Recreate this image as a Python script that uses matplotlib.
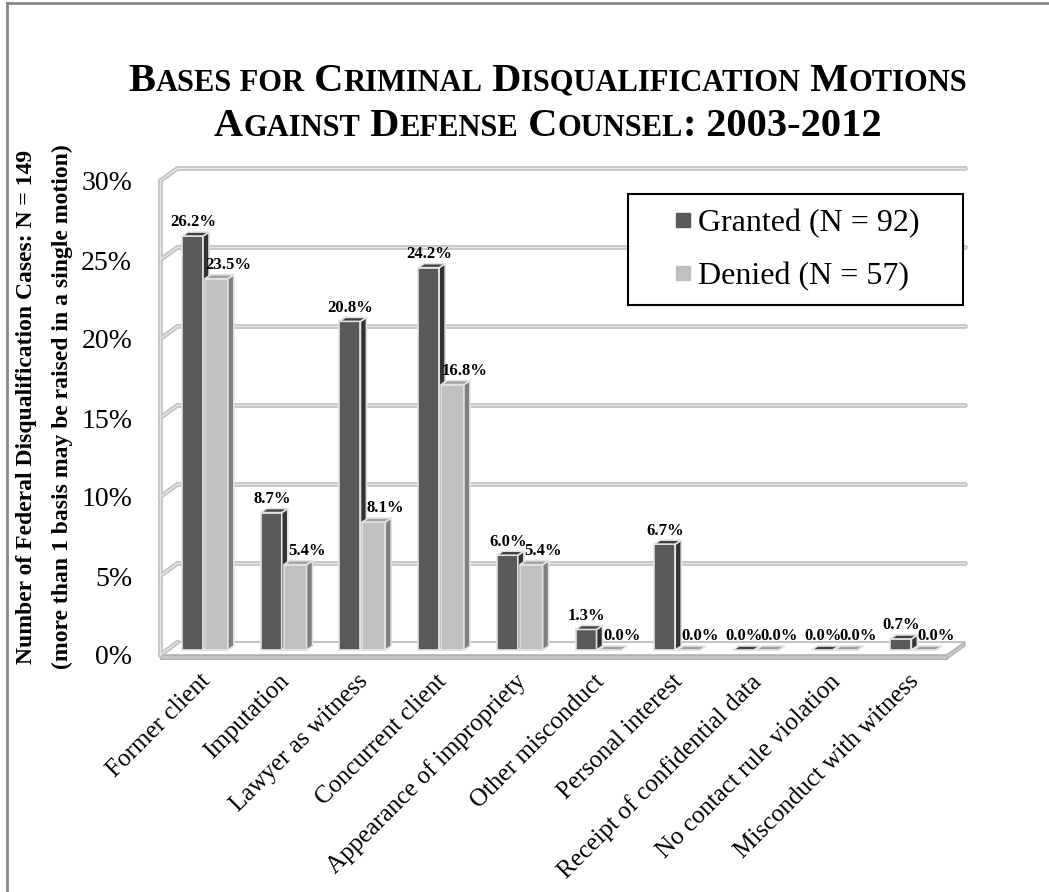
import numpy as np
import matplotlib.pyplot as plt
from matplotlib.patches import Polygon
from matplotlib.lines import Line2D
from matplotlib.offsetbox import TextArea, HPacker, VPacker, AnchoredOffsetbox

plt.rcParams['font.family'] = ['Liberation Serif', 'DejaVu Serif']

# data
categories = ['Former client', 'Imputation', 'Lawyer as witness', 'Concurrent client',
              'Appearance of impropriety', 'Other misconduct', 'Personal interest',
              'Receipt of confidential data', 'No contact rule violation',
              'Misconduct with witness']
granted = [26.2, 8.7, 20.8, 24.2, 6.0, 1.3, 6.7, 0.0, 0.0, 0.7]
denied = [23.5, 5.4, 8.1, 16.8, 5.4, 0.0, 0.0, 0.0, 0.0, 0.0]
series_names = ['Granted (N = 92)', 'Denied (N = 57)']
yticks = [0, 5, 10, 15, 20, 25, 30]

W, H = 1049, 892
fig = plt.figure(figsize=(W / 100, H / 100), dpi=100)

# pixel scale of the fake 3d box
PX_CAT = 78.7
PX_PCT = 15.8
ax = fig.add_axes([160 / W, (H - 655) / H, 807 / W, 488 / H])
ax.set_xlim(-0.5, -0.5 + 807 / PX_CAT)
ax.set_ylim(0, 488 / PX_PCT)
for s in ax.spines.values():
    s.set_visible(False)
ax.set_facecolor('none')

DXW, DYW = 18 / PX_CAT, 13 / PX_PCT   # wall depth
DXB, DYB = 6 / PX_CAT, 4 / PX_PCT     # bar depth
BASE = 5 / PX_PCT
x0, x1 = -0.5, len(categories) - 0.5
ytop = yticks[-1]

# floor slab
th = 4 / PX_PCT
ax.add_patch(Polygon([(x0, 0), (x1, 0), (x1 + DXW, DYW), (x0 + DXW, DYW)],
                     fc='white', ec='#c4c4c4', lw=1.5, zorder=1, clip_on=False))
ax.add_patch(Polygon([(x0, -th), (x1, -th), (x1, 0), (x0, 0)],
                     fc='#c8c8c8', ec='#b0b0b0', lw=0.8, zorder=1, clip_on=False))
ax.add_patch(Polygon([(x1, -th), (x1 + DXW, DYW - th), (x1 + DXW, DYW), (x1, 0)],
                     fc='#c8c8c8', ec='#b0b0b0', lw=0.8, zorder=1, clip_on=False))


def wall_line(xs, ys):
    ax.plot(xs, ys, color='#c2c2c2', lw=3.4, solid_capstyle='round', zorder=1.2, clip_on=False)
    ax.plot(xs, ys, color='#e6e6e6', lw=1.0, solid_capstyle='round', zorder=1.3, clip_on=False)


# back wall grid + left wall
for v in yticks:
    if v > 0:
        wall_line([x0 + DXW, x1 + DXW], [v + DYW, v + DYW])
    wall_line([x0, x0 + DXW], [v, v + DYW])
wall_line([x0, x0], [0, ytop])

# bars
dark = dict(front='#595959', side='#333333', top='#404040')
light = dict(front='#c0c0c0', side='#7f7f7f', top='#a0a0a0')
# (values, left offset, width, colours, label shift)
bar_specs = [(granted, -0.22, 0.267, dark, -0.03), (denied, 0.072, 0.29, light, 0.11)]
z = 2
for i in range(len(categories)):
    for vals, off, bw, col, lshift in bar_specs:
        v = vals[i]
        xl, xr = i + off, i + off + bw
        yb, yt = BASE, BASE + v
        ec = '#e2e2e2'
        if v > 0:
            ax.add_patch(Polygon([(xl, yb), (xr, yb), (xr, yt), (xl, yt)],
                                 fc=col['front'], ec=ec, lw=1.2, zorder=z, clip_on=False))
            ax.add_patch(Polygon([(xr, yb), (xr + DXB, yb + DYB), (xr + DXB, yt + DYB), (xr, yt)],
                                 fc=col['side'], ec=ec, lw=1.2, zorder=z, clip_on=False))
        ax.add_patch(Polygon([(xl, yt), (xr, yt), (xr + DXB, yt + DYB), (xl + DXB, yt + DYB)],
                             fc=col['top'], ec=ec, lw=1.2, zorder=z, clip_on=False))
        z += 0.01
        ax.text((xl + xr) / 2 + DXB / 2 + lshift, yt + DYB + 0.1, f'{v:.1f}%',
                ha='center', va='bottom', fontsize=12, fontweight='bold', zorder=10)

# axes ticks
ax.set_yticks(yticks)
ax.set_yticklabels([f'{v}%' for v in yticks], fontsize=20)
ax.set_xticks(range(len(categories)))
ax.set_xticklabels(categories, fontsize=18, rotation=45, ha='right', va='top',
                   rotation_mode='anchor')
ax.tick_params(axis='y', length=0, pad=20)
ax.tick_params(axis='x', length=0, pad=11)

# legend
handles = [Line2D([], [], ls='none', marker='s', markersize=9.4, color=dark['front']),
           Line2D([], [], ls='none', marker='s', markersize=9.4, color=light['front'])]
leg = ax.legend(handles, series_names, loc='upper left', mode='expand',
                bbox_to_anchor=(628 / W, 1 - 303 / H, 335 / W, 109 / H),
                bbox_transform=fig.transFigure, borderaxespad=0, fontsize=23,
                borderpad=0.45, handlelength=2.57, handletextpad=-0.83, labelspacing=0.75,
                fancybox=False, framealpha=1, edgecolor='black')
leg.get_frame().set_linewidth(1.5)
leg.set_zorder(20)

# y label (two lines)
fig.text(27 / W, 1 - 407 / H, 'Number of Federal Disqualification Cases: N = 149',
         rotation=90, ha='center', va='center', fontsize=17, fontweight='bold')
fig.text(62 / W, 1 - 407 / H, '(more than 1 basis may be raised in a single motion)',
         rotation=90, ha='center', va='center', fontsize=17, fontweight='bold')


# title in small caps
def small_caps_line(runs, big=29.2, small=22):
    kids = []
    for txt in runs:
        is_small = any(c.islower() for c in txt)
        kids.append(TextArea(txt.upper(), textprops=dict(fontsize=small if is_small else big,
                                                         fontweight='bold')))
    return HPacker(children=kids, align='baseline', pad=0, sep=0)


line1 = small_caps_line(['B', 'ases', ' for', ' C', 'riminal', ' D', 'isqualification', ' M', 'otions'])
line2 = small_caps_line(['A', 'gainst', ' D', 'efense', ' C', 'ounsel', ':', ' 2003-2012'])
title = VPacker(children=[line1, line2], align='center', pad=0, sep=6)
fig.add_artist(AnchoredOffsetbox(loc='center', child=title, frameon=False, pad=0, borderpad=0,
                                 bbox_to_anchor=(548 / W, 1 - 104 / H),
                                 bbox_transform=fig.transFigure))

# outer border (left and top visible)
fig.add_artist(Line2D([7 / W, 7 / W], [0, 1 - 3 / H], color='#888888', lw=2))
fig.add_artist(Line2D([7 / W, 1], [1 - 3 / H, 1 - 3 / H], color='#888888', lw=2))

fig.savefig('out.png', dpi=100)
